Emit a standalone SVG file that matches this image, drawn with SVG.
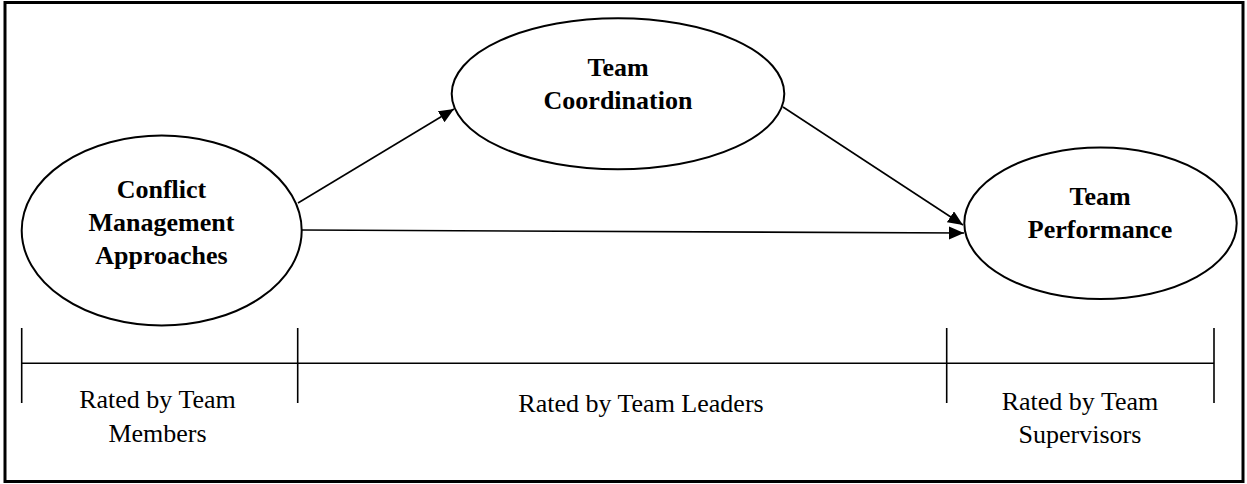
<svg xmlns="http://www.w3.org/2000/svg" width="1247" height="484" viewBox="0 0 1247 484">
<style>
.node ellipse{fill:#fff;stroke:#000;stroke-width:2}
.bold{font-family:"Liberation Serif","Times New Roman",serif;font-weight:bold;font-size:26px;fill:#000;text-anchor:middle}
.reg{font-family:"Liberation Serif","Times New Roman",serif;font-size:26px;fill:#000;text-anchor:middle}
.conn line{stroke:#000;stroke-width:1.6;fill:none}
.scale line{stroke:#000;stroke-width:1.6}
</style>
<defs>
<marker id="arr" markerUnits="userSpaceOnUse" markerWidth="16" markerHeight="14" refX="15" refY="6.5" orient="auto">
<path d="M0,0 L15,6.5 L0,13 z" fill="#000"/>
</marker>
</defs>
<rect x="0" y="0" width="1247" height="484" fill="#fff"/>
<rect x="5" y="2.5" width="1238" height="479" fill="none" stroke="#000" stroke-width="3"/>
<g id="connectors" class="conn">
<line x1="298" y1="203" x2="454" y2="109" marker-end="url(#arr)"/>
<line x1="302" y1="230" x2="964" y2="233" marker-end="url(#arr)"/>
<line x1="783" y1="107" x2="963" y2="225" marker-end="url(#arr)"/>
</g>
<g id="node-conflict" class="node">
<ellipse cx="161.7" cy="230.5" rx="140" ry="95"/>
<text class="bold" x="161.5" y="198">Conflict</text>
<text class="bold" x="161.5" y="231">Management</text>
<text class="bold" x="161.5" y="264">Approaches</text>
</g>
<g id="node-coordination" class="node">
<ellipse cx="618" cy="93.8" rx="166.3" ry="75.5"/>
<text class="bold" x="618" y="76">Team</text>
<text class="bold" x="618" y="109">Coordination</text>
</g>
<g id="node-performance" class="node">
<ellipse cx="1100.5" cy="223.3" rx="136.2" ry="75.7"/>
<text class="bold" x="1100" y="205">Team</text>
<text class="bold" x="1100" y="238">Performance</text>
</g>
<g id="scale" class="scale">
<line x1="21.7" y1="363.3" x2="1214" y2="363.3"/>
<line x1="21.7" y1="328" x2="21.7" y2="403"/>
<line x1="297.7" y1="328" x2="297.7" y2="403"/>
<line x1="946.7" y1="328" x2="946.7" y2="403"/>
<line x1="1214" y1="328" x2="1214" y2="403"/>
</g>
<g id="labels">
<text class="reg" x="157.5" y="408">Rated by Team</text>
<text class="reg" x="157.5" y="441.5">Members</text>
<text class="reg" x="641" y="412">Rated by Team Leaders</text>
<text class="reg" x="1080" y="410">Rated by Team</text>
<text class="reg" x="1080" y="443">Supervisors</text>
</g>
</svg>
